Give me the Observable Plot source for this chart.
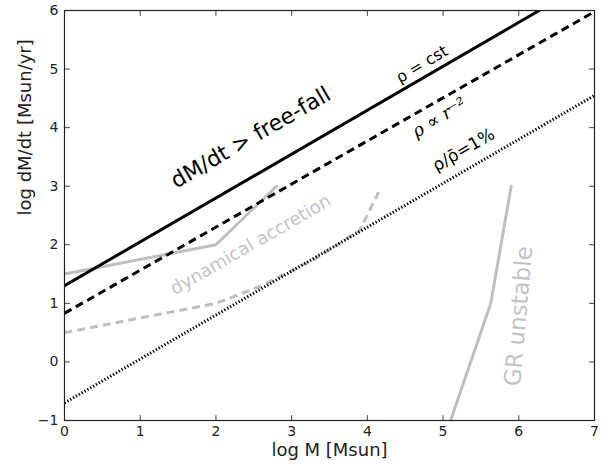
<!DOCTYPE html>
<html>
<head>
<meta charset="utf-8">
<script src="https://cdn.jsdelivr.net/npm/d3@7"></script>
<script src="https://cdn.jsdelivr.net/npm/@observablehq/plot@0.6"></script>
<style>
  html, body { margin: 0; padding: 0; background: #fff; }
  svg { font-family: "DejaVu Sans", sans-serif; }
</style>
</head>
<body>
<div id="chart"></div>
<script>
// ---- data ----
const xTicks = [0, 1, 2, 3, 4, 5, 6, 7];
const yTicks = [-1, 0, 1, 2, 3, 4, 5, 6];

// rho = cst (free-fall, solid black)
const rhoCstM = [0, 6.27];
const rhoCstRate = [1.3, 6.0];
// rho ∝ r^-2 (dashed black)
const rhoR2M = [0, 7];
const rhoR2Rate = [0.83, 5.98];
// rho/rhobar = 1% (dotted black)
const rho1pcM = [0, 7];
const rho1pcRate = [-0.7, 4.55];
// dynamical accretion (solid grey)
const dynSolidM = [0, 2, 2.8];
const dynSolidRate = [1.5, 2.0, 3.0];
// dynamical accretion (dashed grey)
const dynDashM = [0, 1, 2, 2.6, 3.3, 3.9, 4.15];
const dynDashRate = [0.5, 0.75, 1.0, 1.3, 1.75, 2.25, 2.9];
// GR unstable (solid grey)
const grM = [5.1, 5.63, 5.9];
const grRate = [-1.0, 1.0, 3.0];

// annotations
const labelText = ["dM/dt > free-fall", "ρ = cst", "ρ ∝ r⁻²", "ρ/ρ̄=1%", "dynamical accretion", "GR unstable"];
const labelM = [2.46, 4.72, 4.95, 5.27, 2.46, 6.0];
const labelRate = [3.83, 5.08, 4.17, 3.62, 2.0, 0.78];

const pts = (xs, ys) => xs.map((x, i) => ({x, y: ys[i]}));

const black = "#000";
const grey = "#bfbfbf";
const minus = d => d < 0 ? "\u2212" + (-d) : String(d);
const spike = {draw(context, l) { context.moveTo(0, 0); context.lineTo(0, -l); }};

const lab = labelText.map((t, i) => ({t, x: labelM[i], y: labelRate[i]}));

const chart = Plot.plot({
  width: 609,
  height: 468,
  marginLeft: 64,
  marginRight: 15,
  marginTop: 10,
  marginBottom: 48,
  style: {fontFamily: "DejaVu Sans, sans-serif", fontSize: "14px", color: "#222", background: "#fff"},
  x: {domain: [0, 7], ticks: xTicks},
  y: {domain: [-1, 6], ticks: yTicks},
  marks: [
    // grey lines
    Plot.line(pts(dynSolidM, dynSolidRate), {x: "x", y: "y", stroke: grey, strokeWidth: 3, clip: true}),
    Plot.line(pts(dynDashM, dynDashRate), {x: "x", y: "y", stroke: grey, strokeWidth: 3, strokeDasharray: "8,5", strokeLinecap: "butt", clip: true}),
    Plot.line(pts(grM, grRate), {x: "x", y: "y", stroke: grey, strokeWidth: 3, clip: true}),
    // black lines
    Plot.line(pts(rhoCstM, rhoCstRate), {x: "x", y: "y", stroke: black, strokeWidth: 3, clip: true}),
    Plot.line(pts(rhoR2M, rhoR2Rate), {x: "x", y: "y", stroke: black, strokeWidth: 3, strokeDasharray: "8,5", strokeLinecap: "butt", clip: true}),
    Plot.line(pts(rho1pcM, rho1pcRate), {x: "x", y: "y", stroke: black, strokeWidth: 3, strokeDasharray: "1.3,2", strokeLinecap: "butt", clip: true}),
    // annotations
    Plot.text([lab[0]], {x: "x", y: "y", text: "t", rotate: -30, fontSize: 22, fill: black}),
    Plot.text([lab[1]], {x: "x", y: "y", text: "t", rotate: -31, fontSize: 16, fill: black}),
    Plot.text([lab[2]], {x: "x", y: "y", text: "t", rotate: -31, fontSize: 18, fill: black, fontFamily: "DejaVu Serif, serif", fontStyle: "italic"}),
    Plot.text([lab[3]], {x: "x", y: "y", text: "t", rotate: -30, fontSize: 17, fill: black}),
    Plot.text([lab[4]], {x: "x", y: "y", text: "t", rotate: -30, fontSize: 18, fill: "#c4c4c4"}),
    Plot.text([lab[5]], {x: "x", y: "y", text: "t", rotate: -85, fontSize: 23, fill: "#c4c4c4"}),
    // axis tick labels
    Plot.axisX(xTicks, {anchor: "bottom", tickSize: 0, tickPadding: 6, tickFormat: minus, label: null, fontSize: 14}),
    Plot.axisY(yTicks, {anchor: "left", tickSize: 0, tickPadding: 6, tickFormat: minus, label: null, fontSize: 14}),
    // inward ticks on all four sides
    Plot.vector(xTicks, {x: d => d, frameAnchor: "bottom", length: 5, rotate: 0, anchor: "start", shape: spike, stroke: "#444", strokeWidth: 1}),
    Plot.vector(xTicks, {x: d => d, frameAnchor: "top", length: 5, rotate: 180, anchor: "start", shape: spike, stroke: "#444", strokeWidth: 1}),
    Plot.vector(yTicks, {y: d => d, frameAnchor: "left", length: 5, rotate: 90, anchor: "start", shape: spike, stroke: "#444", strokeWidth: 1}),
    Plot.vector(yTicks, {y: d => d, frameAnchor: "right", length: 5, rotate: -90, anchor: "start", shape: spike, stroke: "#444", strokeWidth: 1}),
    Plot.frame({stroke: "#222", strokeWidth: 1.2}),
    // axis titles
    Plot.text(["log M [Msun]"], {frameAnchor: "bottom", text: d => d, dy: 35, fontSize: 18, fill: "#222"}),
    Plot.text(["log dM/dt [Msun/yr]"], {frameAnchor: "left", text: d => d, dx: -39, rotate: -90, fontSize: 18, fill: "#222"})
  ]
});
document.getElementById("chart").appendChild(chart);
</script>
</body>
</html>
